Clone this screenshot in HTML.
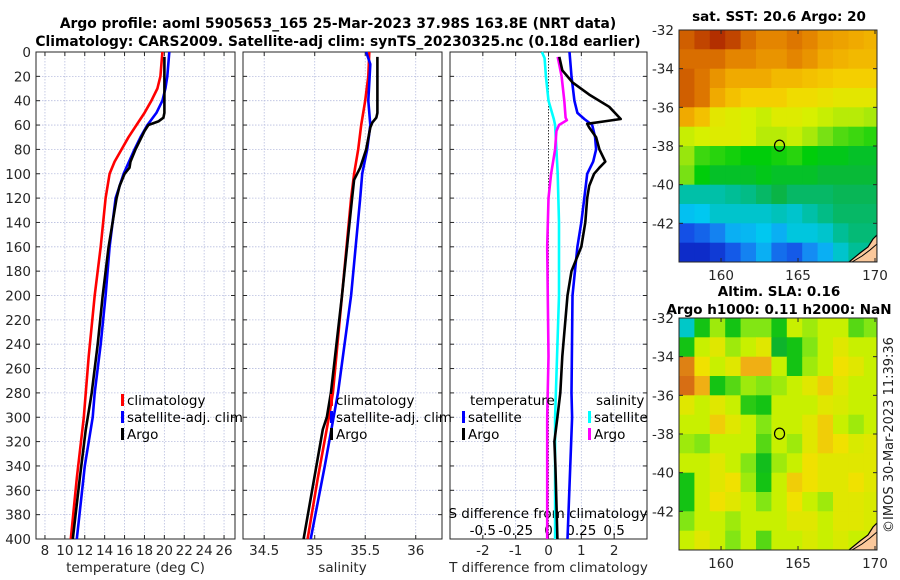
<!DOCTYPE html>
<html><head><meta charset="utf-8">
<style>
html,body{margin:0;padding:0;background:#fff;}
svg{display:block;font-family:"DejaVu Sans","Liberation Sans",sans-serif;}
</style></head>
<body>
<svg id="fig" width="900" height="580" viewBox="0 0 900 580">
<text x="338" y="28" font-size="13.8" font-weight="bold" text-anchor="middle" fill="#000">Argo profile: aoml 5905653_165 25-Mar-2023 37.98S 163.8E (NRT data)</text>
<text x="338" y="46" font-size="13.8" font-weight="bold" text-anchor="middle" fill="#000">Climatology: CARS2009. Satellite-adj clim: synTS_20230325.nc (0.18d earlier)</text>
<text x="779" y="21" font-size="13.5" font-weight="bold" text-anchor="middle">sat. SST: 20.6 Argo: 20</text>
<text x="779" y="296" font-size="13.5" font-weight="bold" text-anchor="middle">Altim. SLA: 0.16</text>
<text x="779" y="314" font-size="13.5" font-weight="bold" text-anchor="middle">Argo h1000: 0.11 h2000: NaN</text>
<text transform="translate(893,435) rotate(-90)" font-size="13" text-anchor="middle" fill="#222">©IMOS 30-Mar-2023 11:39:36</text>
<g id="g"></g>
</svg>
<script>
// ---- profile data (depth m, value) ----
const tClimDepth=[0,10,20,30,40,50,60,70,80,90,100,120,160,200,250,300,350,400];
const tClimVal=[19.8,19.7,19.6,19.3,18.7,18.0,17.2,16.4,15.7,15.0,14.5,14.1,13.6,13.0,12.4,11.9,11.2,10.6];
const tSatDepth=[0,20,30,40,50,60,70,80,100,120,160,200,240,280,300,340,400];
const tSatVal=[20.5,20.3,20.1,19.8,19.2,18.3,17.6,17.0,15.9,15.1,14.5,14.1,13.6,13.0,12.8,12.0,11.2];
const tArgoDepth=[4,50,54,57,60,65,70,80,90,95,100,110,120,160,200,240,280,310,350,400];
const tArgoVal=[20.0,20.0,19.9,19.4,18.4,18.0,17.7,17.1,16.6,16.5,16.0,15.5,15.2,14.4,13.8,13.3,12.7,12.1,11.5,10.8];
const sClimDepth=[0,20,40,60,80,100,120,200,280,300,350,400];
const sClimVal=[35.54,35.53,35.50,35.46,35.43,35.39,35.36,35.27,35.18,35.14,35.03,34.93];
const sSatDepth=[0,10,40,60,80,100,120,200,280,340,400];
const sSatVal=[35.51,35.55,35.53,35.55,35.52,35.47,35.45,35.36,35.23,35.10,34.96];
const sArgoDepth=[4,50,54,58,62,80,95,100,105,120,200,280,300,310,400];
const sArgoVal=[35.62,35.62,35.61,35.57,35.55,35.51,35.45,35.42,35.39,35.37,35.27,35.16,35.12,35.08,34.89];
const dsSatDepth=[0,5,20,40,55,60,80,100,140,200,300,400];
const dsSatVal=[-0.05,-0.03,-0.02,0.0,0.04,0.05,0.06,0.07,0.08,0.08,0.05,0.05];
const dsArgoDepth=[4,20,40,54,56,60,65,80,100,120,160,250,300,400];
const dsArgoVal=[0.07,0.10,0.12,0.13,0.14,0.08,0.06,0.05,0.02,0.0,-0.01,0.0,-0.01,-0.01];
const dtSatDepth=[0,20,40,50,55,60,70,80,90,100,120,140,160,200,280,300,400];
const dtSatVal=[0.64,0.70,0.79,0.88,1.09,1.33,1.42,1.45,1.36,1.18,1.09,1.0,0.88,0.73,0.70,0.72,0.58];
const dtArgoDepth=[4,15,25,35,45,55,57,59,62,70,80,90,95,100,110,120,140,160,180,200,250,280,300,320,340,400];
const dtArgoVal=[0.33,0.42,0.73,1.24,1.85,2.2,1.7,1.18,1.24,1.45,1.55,1.73,1.55,1.39,1.24,1.18,1.12,1.0,0.7,0.58,0.42,0.36,0.27,0.18,0.21,0.27];
const depthTicks=[0,20,40,60,80,100,120,140,160,180,200,220,240,260,280,300,320,340,360,380,400];
const tTicks=[8,10,12,14,16,18,20,22,24,26];
const sTicks=[34.5,35,35.5,36];
const sTickLabels=["34.5","35","35.5","36"];
const dtTicks=[-2,-1,0,1,2];
const dsTicks=[-0.5,-0.25,0,0.25,0.5];
const dsTickLabels=["-0.5","-0.25","0","0.25","0.5"];
// ---- map data (rows lat -32.. -44 step 1, cols from lon 157.27 step 1) ----
const sstGrid=[
[21.5,21.8,22,21.8,21.3,21,21,21.2,21,20.7,20.6,20.5,20.4],
[21.3,21.3,21.3,21,21,20.8,20.8,21,20.8,20.5,20.4,20.3,20.3],
[21.5,21.2,20.8,20.5,20.5,20.5,20.3,20.3,20.2,20.1,20,20,20],
[21.5,21.2,20.5,20.2,20,20,20,19.8,19.8,19.7,19.6,19.6,19.6],
[20.5,20.2,19.6,19.5,19.4,19.3,19.5,19.5,19.4,19.3,19.2,19.2,19.1],
[19.3,19.4,19.5,19.5,19.4,19.2,19.2,19.3,19.1,18.8,18.6,18.5,18.4],
[19.0,18.5,18.4,18.3,18.2,18.2,18.3,18.4,18.2,18.1,18.1,18.0,18.0],
[18.8,18.2,18.0,18.0,18.0,18.1,18.0,18.0,18.0,17.9,17.9,17.9,17.9],
[17.2,17.2,17.2,17.3,17.4,17.6,17.8,17.6,17.6,17.6,17.7,17.7,17.7],
[16.7,16.8,17.0,17.0,17.0,17.0,17.1,17.0,17.2,17.4,17.6,17.6,17.6],
[15.5,15.7,16.0,16.5,16.6,16.8,16.5,16.9,16.9,17.0,17.3,17.5,17.5],
[15.0,15.0,15.2,15.6,16.0,16.5,15.8,15.6,16.1,16.5,17.0,17.3,17.3]];
const slaGrid=[
[-0.1,0.05,0.12,0.05,0.1,0.1,0.05,0.15,0.12,0.15,0.15,0.08,0.1],
[0.05,0.15,0.18,0.12,0.15,0.18,0.02,0.05,0.1,0.15,0.18,0.15,0.15],
[0.3,0.2,0.15,0.18,0.25,0.25,0.15,0.05,0.12,0.15,0.2,0.18,0.15],
[0.33,0.25,0.05,0.08,0.12,0.1,0.12,0.15,0.18,0.22,0.18,0.15,0.15],
[0.18,0.15,0.18,0.15,0.06,0.05,0.15,0.15,0.15,0.18,0.17,0.15,0.15],
[0.15,0.15,0.22,0.18,0.15,0.1,0.15,0.15,0.18,0.22,0.15,0.12,0.15],
[0.12,0.1,0.15,0.15,0.15,0.08,0.15,0.12,0.18,0.22,0.2,0.17,0.18],
[0.15,0.15,0.18,0.15,0.1,0.04,0.12,0.15,0.2,0.18,0.18,0.18,0.18],
[0.05,0.15,0.18,0.2,0.12,0.05,0.15,0.22,0.2,0.18,0.18,0.2,0.18],
[0.05,0.15,0.2,0.18,0.15,0.1,0.15,0.2,0.15,0.12,0.18,0.18,0.17],
[0.1,0.15,0.15,0.12,0.15,0.15,0.15,0.18,0.18,0.15,0.18,0.18,0.17],
[0.15,0.18,0.15,0.1,0.15,0.08,0.15,0.15,0.17,0.15,0.17,0.15,0.15]];
const lonTicks=[160,165,170];
const latTicks=[-32,-34,-36,-38,-40,-42];
const argoLon=163.8, argoLat=-37.98;

const NS='http://www.w3.org/2000/svg';
const G=document.getElementById('g');
function el(tag,attrs,parent,txt){const e=document.createElementNS(NS,tag);for(const k in attrs)e.setAttribute(k,attrs[k]);if(txt!==undefined)e.textContent=txt;(parent||G).appendChild(e);return e;}
const FS=13.5;
const TOP=52,BOT=539;
const yD=d=>TOP+(d/400)*(BOT-TOP);
const panels=[
 {x0:36,x1:235,lo:7.1,hi:27.1,name:'temperature-panel'},
 {x0:243,x1:442,lo:34.29,hi:36.26,name:'salinity-panel'},
 {x0:450,x1:647,lo:-3,hi:3,name:'difference-panel'}];
function xf(p){return v=>p.x0+(v-p.lo)/(p.hi-p.lo)*(p.x1-p.x0);}
const x1f=xf(panels[0]),x2f=xf(panels[1]),x3f=xf(panels[2]);
const xsf=v=>x3f(v*4);

panels.forEach((p,i)=>{
 const g=el('g',{});
 
 
 const xs=[tTicks,sTicks,dtTicks][i], fx=[x1f,x2f,x3f][i];
 depthTicks.forEach(d=>{ if(d>0&&d<400){const l=el('line',{x1:p.x0,x2:p.x1,y1:yD(d),y2:yD(d),stroke:'#b8bedf','stroke-width':0.8,'stroke-dasharray':'1.5,1.5'},g);
  
  }});
 xs.forEach(v=>{const X=fx(v);const zero=(i==2&&v==0);
  const l=el('line',{x1:X,x2:X,y1:TOP,y2:BOT,stroke:zero?'#333':'#b8bedf','stroke-width':zero?1:0.8,'stroke-dasharray':'1.5,1.5'},g);
  
  });
 const r=el('rect',{x:p.x0,y:TOP,width:p.x1-p.x0,height:BOT-TOP,fill:'none',stroke:'#262626','stroke-width':1},g);
 
 
 depthTicks.forEach(d=>{el('line',{x1:p.x0,x2:p.x0+4,y1:yD(d),y2:yD(d),stroke:'#262626'},g);el('line',{x1:p.x1,x2:p.x1-4,y1:yD(d),y2:yD(d),stroke:'#262626'},g);
  if(i==0){const t=el('text',{x:p.x0-5,y:yD(d)+5,'font-size':FS,'text-anchor':'end',fill:'#262626'},g,String(d));
   
   }});
 xs.forEach((v,k)=>{const X=fx(v);el('line',{x1:X,x2:X,y1:BOT,y2:BOT-4,stroke:'#262626'},g);el('line',{x1:X,x2:X,y1:TOP,y2:TOP+4,stroke:'#262626'},g);
  const lab=i==1?sTickLabels[k]:String(v);
  const t=el('text',{x:X,y:BOT+16,'font-size':FS,'text-anchor':'middle',fill:'#262626'},g,lab);
  
  });
});
[['temperature (deg C)',135.5,'temperature-axis-title'],['salinity',342.5,'salinity-axis-title'],['T difference from climatology',548.5,'t-difference-axis-title']].forEach(a=>{
 const t=el('text',{x:a[1],y:572,'font-size':FS,'text-anchor':'middle',fill:'#262626'},G,a[0]);
 
 });
{const t=el('text',{x:548,y:518,'font-size':FS,'text-anchor':'middle',fill:'#000'},G,'S difference from climatology');
 
 
 dsTicks.forEach((v,k)=>{const tt=el('text',{x:xsf(v),y:535,'font-size':FS,'text-anchor':'middle',fill:'#000'},G,dsTickLabels[k]);
  
  });}

function line(dep,val,fx,color,name){
 const pts=dep.map((d,k)=>fx(val[k]).toFixed(1)+','+yD(d).toFixed(1)).join(' ');
 const pl=el('polyline',{points:pts,fill:'none',stroke:color,'stroke-width':2.6,'stroke-linejoin':'round'});
 
 }
line(tClimDepth,tClimVal,x1f,'#ff0000','temp-climatology-line');
line(tSatDepth,tSatVal,x1f,'#0000ff','temp-satellite-line');
line(tArgoDepth,tArgoVal,x1f,'#000','temp-argo-line');
line(sClimDepth,sClimVal,x2f,'#ff0000','sal-climatology-line');
line(sSatDepth,sSatVal,x2f,'#0000ff','sal-satellite-line');
line(sArgoDepth,sArgoVal,x2f,'#000','sal-argo-line');
line(dsSatDepth,dsSatVal,xsf,'#00ffff','s-diff-satellite-line');
line(dsArgoDepth,dsArgoVal,xsf,'#ff00ff','s-diff-argo-line');
line(dtSatDepth,dtSatVal,x3f,'#0000ff','t-diff-satellite-line');
line(dtArgoDepth,dtArgoVal,x3f,'#000','t-diff-argo-line');

function legend(x,y,color,label,name){
 const g=el('g',{});
 
 
 el('rect',{x:x,y:y-11,width:3,height:12,fill:color},g);
 el('text',{x:x+6,y:y,'font-size':13.5,fill:'#000'},g,label);}
legend(121,405,'#ff0000','climatology','legend-climatology');
legend(121,422,'#0000ff','satellite-adj. clim','legend-satellite-adj');
legend(121,439,'#000','Argo','legend-argo');
legend(330,405,'#ff0000','climatology','legend-sal-climatology');
legend(330,422,'#0000ff','satellite-adj. clim','legend-sal-satellite-adj');
legend(330,439,'#000','Argo','legend-sal-argo');
{const t=el('text',{x:470,y:405,'font-size':13.5},G,'temperature');
 const s=el('text',{x:596,y:405,'font-size':13.5},G,'salinity');}
legend(462,422,'#0000ff','satellite','legend-t-satellite');
legend(462,439,'#000','Argo','legend-t-argo');
legend(588,422,'#00ffff','satellite','legend-s-satellite');
legend(588,439,'#ff00ff','Argo','legend-s-argo');

// ---- maps ----
const MX0=679,MX1=877,LON0=157.27,LON1=170.13;
const mxf=lon=>MX0+(lon-LON0)/(LON1-LON0)*(MX1-MX0);
function rgb(c){return 'rgb('+c.map(Math.round).join(',')+')';}
function lerpRamp(stops,v){
 if(v<=stops[0][0])return rgb(stops[0][1]);
 for(let i=1;i<stops.length;i++){if(v<=stops[i][0]){const a=stops[i-1],b=stops[i],t=(v-a[0])/(b[0]-a[0]);
  return rgb(a[1].map((c,k)=>c+(b[1][k]-c)*t));}}
 return rgb(stops[stops.length-1][1]);}
const sstRamp=[[14.8,[10,30,190]],[15.5,[20,80,230]],[16.2,[20,150,245]],[16.8,[0,200,240]],[17.3,[0,190,150]],[17.8,[10,180,70]],[18.2,[0,205,10]],[18.8,[120,225,20]],[19.4,[215,240,0]],[19.9,[245,215,0]],[20.5,[240,170,0]],[21.1,[225,125,0]],[21.7,[200,80,0]],[22.2,[165,25,0]]];
const slaRamp=[[-0.1,[0,200,200]],[0.0,[10,170,60]],[0.05,[20,195,20]],[0.1,[130,230,20]],[0.15,[200,240,0]],[0.2,[240,225,0]],[0.25,[240,175,20]],[0.32,[215,110,20]]];
function drawMap(y0,grid,ramp,name){
 const y1=y0+232;const yl=lat=>y0+(-32-lat)/12*(y1-y0);
 const g=el('g',{});
 
 
 const cid='clip'+y0;
 const cp=el('clipPath',{id:cid},g);el('rect',{x:MX0,y:y0,width:MX1-MX0,height:y1-y0},cp);
 const cg=el('g',{'clip-path':'url(#'+cid+')'},g);
 grid.forEach((row,r)=>row.forEach((v,c)=>{
  const cell=el('rect',{x:mxf(LON0+c).toFixed(1),y:yl(-32-r).toFixed(1),width:(mxf(LON0+c+1)-mxf(LON0+c)+0.6).toFixed(1),height:(yl(-33-r)-yl(-32-r)+0.6).toFixed(1),fill:lerpRamp(ramp,v)},cg);
  
  }));
 const land=el('polygon',{points:`849,${y1} 860,${y1-9} 868,${y1-15} 873,${y1-23} 877,${y1-27} 877,${y1}`,fill:'#fbc89b',stroke:'#000','stroke-width':1.2},cg);
 
 
 el('polyline',{points:`852,${y1} 862,${y1-6} 870,${y1-12} 877,${y1-18}`,fill:'none',stroke:'#000','stroke-width':1},cg);
 const mk=el('ellipse',{cx:mxf(argoLon),cy:yl(argoLat),rx:5,ry:5.5,fill:'none',stroke:'#000','stroke-width':1.2},g);
 
 
 el('rect',{x:MX0,y:y0,width:MX1-MX0,height:y1-y0,fill:'none',stroke:'#262626','stroke-width':1},g);
 latTicks.forEach(l=>{const Y=yl(l);el('line',{x1:MX0,x2:MX0+4,y1:Y,y2:Y,stroke:'#262626'},g);el('line',{x1:MX1,x2:MX1-4,y1:Y,y2:Y,stroke:'#262626'},g);
  const t=el('text',{x:MX0-5,y:Y+5,'font-size':FS,'text-anchor':'end',fill:'#262626'},g,String(l));
  
  });
 lonTicks.forEach(l=>{const X=mxf(l);el('line',{x1:X,x2:X,y1:y1,y2:y1-4,stroke:'#262626'},g);el('line',{x1:X,x2:X,y1:y0,y2:y0+4,stroke:'#262626'},g);
  const t=el('text',{x:X,y:y1+18,'font-size':FS,'text-anchor':'middle',fill:'#262626'},g,String(l));
  
  });
}
drawMap(30,sstGrid,sstRamp,'sst-map');
drawMap(318,slaGrid,slaRamp,'sla-map');
</script>
</body></html>
